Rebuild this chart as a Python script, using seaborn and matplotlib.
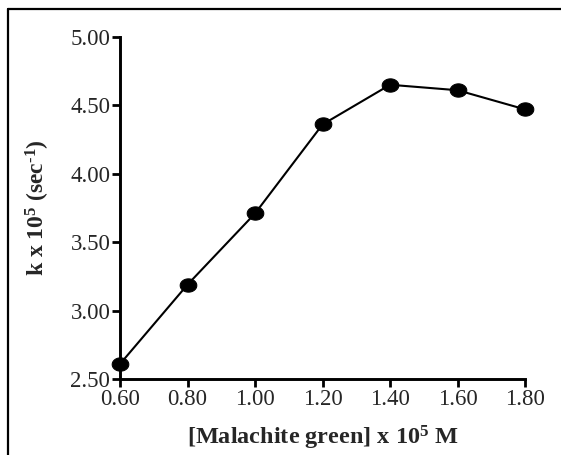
import matplotlib
matplotlib.use("Agg")
import numpy as np
import matplotlib.pyplot as plt
import seaborn as sns
import pandas as pd
from matplotlib.lines import Line2D

# dye concentration (x 10^5 M) and rate constant k (x 10^5 sec^-1)
conc = [0.60, 0.80, 1.00, 1.20, 1.40, 1.60, 1.80]
rate_k = [2.61, 3.19, 3.71, 4.36, 4.65, 4.61, 4.47]
x_ticks = [0.60, 0.80, 1.00, 1.20, 1.40, 1.60, 1.80]
y_ticks = [2.50, 3.00, 3.50, 4.00, 4.50, 5.00]

sns.set_style("ticks")
plt.rcParams['font.family'] = ['Liberation Serif', 'DejaVu Serif']
plt.rcParams['mathtext.fontset'] = 'custom'
plt.rcParams['mathtext.rm'] = 'Liberation Serif:bold'
plt.rcParams['mathtext.bf'] = 'Liberation Serif:bold'
plt.rcParams['mathtext.default'] = 'bf'

df = pd.DataFrame({'conc': conc, 'k': rate_k})

# slightly flattened round marker, like the original
t = np.linspace(0, 2 * np.pi, 40)
ellipse = list(zip(np.cos(t), 0.8 * np.sin(t)))

fig = plt.figure(figsize=(5.61, 4.55), dpi=100)
ax = fig.add_axes([0.214, 0.167, 0.722, 0.752])

sns.lineplot(data=df, x='conc', y='k', ax=ax, color='black', linewidth=1.5,
             marker=ellipse, markersize=12, markeredgecolor='black',
             markerfacecolor='black', clip_on=False)

ax.set_xlim(0.60, 1.80)
ax.set_ylim(2.50, 5.00)
ax.set_xticks(x_ticks)
ax.set_yticks(y_ticks)
ax.set_xticklabels([f"{v:.2f}" for v in x_ticks], fontsize=16.5)
ax.set_yticklabels([f"{v:.2f}" for v in y_ticks], fontsize=16.5)
ax.tick_params(direction='out', length=6, width=2, color='black', pad=1)

for side in ['top', 'right']:
    ax.spines[side].set_visible(False)
for side in ['left', 'bottom']:
    ax.spines[side].set_linewidth(2.1)
    ax.spines[side].set_color('black')

ax.set_xlabel(r'[Malachite green] x 10$^{5}$ M', fontsize=17.5, fontweight='bold', labelpad=10)
ax.set_ylabel(r'k x 10$^{5}$ (sec$^{\text{-}1}$)', fontsize=17, fontweight='bold', labelpad=13)

# frame around the picture (only top and left edges are visible)
fig.add_artist(Line2D([8 / 561, 1.0], [1 - 8.5 / 455, 1 - 8.5 / 455],
                      transform=fig.transFigure, color='black', linewidth=1.6))
fig.add_artist(Line2D([8 / 561, 8 / 561], [0.0, 1 - 8.5 / 455],
                      transform=fig.transFigure, color='black', linewidth=1.6))

fig.savefig('out.png', dpi=100)
